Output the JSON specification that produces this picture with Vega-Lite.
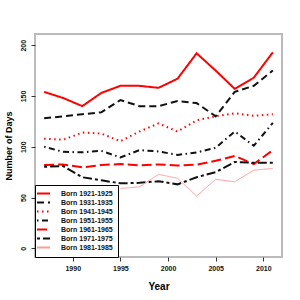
{
  "$schema": "https://vega.github.io/schema/vega-lite/v6.json",
  "width": 247,
  "height": 223,
  "autosize": {"type": "none"},
  "padding": {"left": 35, "top": 34, "right": 18, "bottom": 43},
  "background": "white",
  "config": {
    "view": {"stroke": "#bbbbbb", "strokeWidth": 2},
    "font": "Liberation Sans",
    "axis": {
      "grid": false,
      "domain": false,
      "tickColor": "#333333",
      "tickSize": 4,
      "labelFontSize": 7,
      "labelFontWeight": "bold",
      "labelColor": "#111111",
      "titleFontWeight": "bold",
      "titleColor": "#000000"
    },
    "legend": {
      "orient": "bottom-left",
      "offset": 0,
      "padding": 5,
      "strokeColor": "#000000",
      "fillColor": "white",
      "labelFontSize": 7,
      "labelFontWeight": "bold",
      "labelColor": "#111111",
      "symbolType": "M-2.6,0H2.6",
      "symbolSize": 25,
      "symbolStrokeWidth": 2,
      "symbolFillColor": "transparent",
      "rowPadding": 0,
      "labelOffset": 14,
      "zindex": 1
    }
  },
  "data": {
    "values": [
      {"year": 1987, "cohort": "Born 1921-1925", "days": 154},
      {"year": 1989, "cohort": "Born 1921-1925", "days": 148},
      {"year": 1991, "cohort": "Born 1921-1925", "days": 140},
      {"year": 1993, "cohort": "Born 1921-1925", "days": 153},
      {"year": 1995, "cohort": "Born 1921-1925", "days": 160},
      {"year": 1997, "cohort": "Born 1921-1925", "days": 160},
      {"year": 1999, "cohort": "Born 1921-1925", "days": 158},
      {"year": 2001, "cohort": "Born 1921-1925", "days": 167},
      {"year": 2003, "cohort": "Born 1921-1925", "days": 192},
      {"year": 2005, "cohort": "Born 1921-1925", "days": 175},
      {"year": 2007, "cohort": "Born 1921-1925", "days": 157},
      {"year": 2009, "cohort": "Born 1921-1925", "days": 168},
      {"year": 2011, "cohort": "Born 1921-1925", "days": 193},
      {"year": 1987, "cohort": "Born 1931-1935", "days": 128},
      {"year": 1989, "cohort": "Born 1931-1935", "days": 130},
      {"year": 1991, "cohort": "Born 1931-1935", "days": 132},
      {"year": 1993, "cohort": "Born 1931-1935", "days": 134},
      {"year": 1995, "cohort": "Born 1931-1935", "days": 146},
      {"year": 1997, "cohort": "Born 1931-1935", "days": 140},
      {"year": 1999, "cohort": "Born 1931-1935", "days": 140},
      {"year": 2001, "cohort": "Born 1931-1935", "days": 145},
      {"year": 2003, "cohort": "Born 1931-1935", "days": 143},
      {"year": 2005, "cohort": "Born 1931-1935", "days": 130},
      {"year": 2007, "cohort": "Born 1931-1935", "days": 154},
      {"year": 2009, "cohort": "Born 1931-1935", "days": 160},
      {"year": 2011, "cohort": "Born 1931-1935", "days": 175},
      {"year": 1987, "cohort": "Born 1941-1945", "days": 108},
      {"year": 1989, "cohort": "Born 1941-1945", "days": 107},
      {"year": 1991, "cohort": "Born 1941-1945", "days": 114},
      {"year": 1993, "cohort": "Born 1941-1945", "days": 113},
      {"year": 1995, "cohort": "Born 1941-1945", "days": 105.5},
      {"year": 1997, "cohort": "Born 1941-1945", "days": 115},
      {"year": 1999, "cohort": "Born 1941-1945", "days": 123},
      {"year": 2001, "cohort": "Born 1941-1945", "days": 115},
      {"year": 2003, "cohort": "Born 1941-1945", "days": 126},
      {"year": 2005, "cohort": "Born 1941-1945", "days": 130},
      {"year": 2007, "cohort": "Born 1941-1945", "days": 133},
      {"year": 2009, "cohort": "Born 1941-1945", "days": 130.5},
      {"year": 2011, "cohort": "Born 1941-1945", "days": 132},
      {"year": 1987, "cohort": "Born 1951-1955", "days": 100},
      {"year": 1989, "cohort": "Born 1951-1955", "days": 95},
      {"year": 1991, "cohort": "Born 1951-1955", "days": 94.5},
      {"year": 1993, "cohort": "Born 1951-1955", "days": 96},
      {"year": 1995, "cohort": "Born 1951-1955", "days": 89.5},
      {"year": 1997, "cohort": "Born 1951-1955", "days": 96.7},
      {"year": 1999, "cohort": "Born 1951-1955", "days": 95.4},
      {"year": 2001, "cohort": "Born 1951-1955", "days": 92},
      {"year": 2003, "cohort": "Born 1951-1955", "days": 94.4},
      {"year": 2005, "cohort": "Born 1951-1955", "days": 99},
      {"year": 2007, "cohort": "Born 1951-1955", "days": 115},
      {"year": 2009, "cohort": "Born 1951-1955", "days": 101},
      {"year": 2011, "cohort": "Born 1951-1955", "days": 123.5},
      {"year": 1987, "cohort": "Born 1961-1965", "days": 82},
      {"year": 1989, "cohort": "Born 1961-1965", "days": 82.6},
      {"year": 1991, "cohort": "Born 1961-1965", "days": 79.7},
      {"year": 1993, "cohort": "Born 1961-1965", "days": 82},
      {"year": 1995, "cohort": "Born 1961-1965", "days": 83},
      {"year": 1997, "cohort": "Born 1961-1965", "days": 81.6},
      {"year": 1999, "cohort": "Born 1961-1965", "days": 82.6},
      {"year": 2001, "cohort": "Born 1961-1965", "days": 81.6},
      {"year": 2003, "cohort": "Born 1961-1965", "days": 82.3},
      {"year": 2005, "cohort": "Born 1961-1965", "days": 86.2},
      {"year": 2007, "cohort": "Born 1961-1965", "days": 91},
      {"year": 2009, "cohort": "Born 1961-1965", "days": 83},
      {"year": 2011, "cohort": "Born 1961-1965", "days": 96.7},
      {"year": 1987, "cohort": "Born 1971-1975", "days": 80.3},
      {"year": 1989, "cohort": "Born 1971-1975", "days": 81},
      {"year": 1991, "cohort": "Born 1971-1975", "days": 70},
      {"year": 1993, "cohort": "Born 1971-1975", "days": 67},
      {"year": 1995, "cohort": "Born 1971-1975", "days": 64},
      {"year": 1997, "cohort": "Born 1971-1975", "days": 64.5},
      {"year": 1999, "cohort": "Born 1971-1975", "days": 66},
      {"year": 2001, "cohort": "Born 1971-1975", "days": 63},
      {"year": 2003, "cohort": "Born 1971-1975", "days": 70},
      {"year": 2005, "cohort": "Born 1971-1975", "days": 75},
      {"year": 2007, "cohort": "Born 1971-1975", "days": 85},
      {"year": 2009, "cohort": "Born 1971-1975", "days": 84.2},
      {"year": 2011, "cohort": "Born 1971-1975", "days": 84.2},
      {"year": 1995, "cohort": "Born 1981-1985", "days": 59},
      {"year": 1997, "cohort": "Born 1981-1985", "days": 60.6},
      {"year": 1999, "cohort": "Born 1981-1985", "days": 72.8},
      {"year": 2001, "cohort": "Born 1981-1985", "days": 69},
      {"year": 2003, "cohort": "Born 1981-1985", "days": 51.5},
      {"year": 2005, "cohort": "Born 1981-1985", "days": 68},
      {"year": 2007, "cohort": "Born 1981-1985", "days": 65.5},
      {"year": 2009, "cohort": "Born 1981-1985", "days": 77},
      {"year": 2011, "cohort": "Born 1981-1985", "days": 78.7}
    ]
  },
  "mark": {"type": "line", "strokeCap": "butt"},
  "encoding": {
    "x": {
      "field": "year",
      "type": "quantitative",
      "scale": {"domain": [1986.04, 2011.96], "nice": false, "zero": false},
      "axis": {"values": [1990, 1995, 2000, 2005, 2010], "format": "d", "title": "Year", "titleFontSize": 10, "labelPadding": 3, "titlePadding": 10}
    },
    "y": {
      "field": "days",
      "type": "quantitative",
      "scale": {"domain": [-8.5, 211], "nice": false, "zero": false},
      "axis": {"values": [0, 50, 100, 150, 200], "title": "Number of Days", "titleFontSize": 9, "labelAngle": -90, "labelAlign": "center", "labelBaseline": "bottom", "labelPadding": 5, "titlePadding": 6}
    },
    "color": {
      "field": "cohort",
      "type": "nominal",
      "scale": {
        "domain": ["Born 1921-1925", "Born 1931-1935", "Born 1941-1945", "Born 1951-1955", "Born 1961-1965", "Born 1971-1975", "Born 1981-1985"],
        "range": ["#ff0000", "#111111", "#ff0000", "#111111", "#ff0000", "#111111", "#ff9a9a"]
      },
      "legend": {"title": null}
    },
    "strokeDash": {
      "field": "cohort",
      "type": "nominal",
      "scale": {
        "domain": ["Born 1921-1925", "Born 1931-1935", "Born 1941-1945", "Born 1951-1955", "Born 1961-1965", "Born 1971-1975", "Born 1981-1985"],
        "range": [[1, 0], [7, 4], [1.5, 3.5], [1.5, 3.5, 6, 3.5], [10, 4], [3, 3, 9, 3], [1, 0]]
      },
      "legend": {"title": null}
    },
    "strokeWidth": {
      "condition": {"test": "datum.cohort === 'Born 1981-1985'", "value": 1},
      "value": 2
    }
  }
}
